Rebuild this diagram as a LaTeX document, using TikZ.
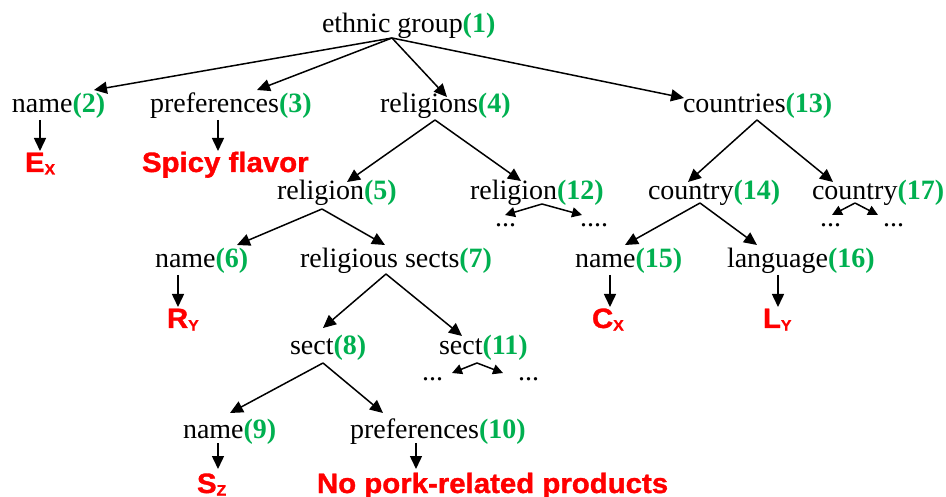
\documentclass[tikz,border=0pt]{standalone}
\usepackage{fontspec}
\setmainfont{Liberation Serif}
\newfontfamily\redfont[FakeStretch=1.05,FakeBold=1.2]{Liberation Sans}
\usetikzlibrary{arrows.meta}
\definecolor{numgreen}{HTML}{00B050}
\definecolor{valred}{HTML}{FF0000}
\newcommand{\tlab}[2]{#1\textbf{\color{numgreen}(#2)}}
\newcommand{\rsub}[2]{#1\raisebox{-2.5pt}{\fontsize{15}{15}\selectfont #2}}
\begin{document}
\begin{tikzpicture}[x=1pt,y=-1pt,
  lbl/.style={anchor=base west, inner sep=0pt, outer sep=0pt, font=\fontsize{28}{30}\selectfont},
  val/.style={anchor=base west, inner sep=0pt, outer sep=0pt, text=valred, font=\redfont\bfseries\fontsize{28}{30}\selectfont},
  edge/.style={line width=1.5pt, -{Triangle[length=13pt,width=12pt]}},
  minor/.style={line width=1.5pt, -{Triangle[length=10pt,width=10pt]}}]
\useasboundingbox (0,0) rectangle (946,497);
% nodes
\node[lbl] (n1) at (322,33) {\tlab{ethnic group}{1}};
\node[lbl] (n2) at (12,113) {\tlab{name}{2}};
\node[lbl] (n3) at (150,113) {\tlab{preferences}{3}};
\node[lbl] (n4) at (380,113) {\tlab{religions}{4}};
\node[lbl] (n13) at (683,113) {\tlab{countries}{13}};
\node[val] (ex) at (25,172) {\rsub{E}{X}};
\node[val] (spicy) at (142,172) {Spicy flavor};
\node[lbl] (n5) at (277,200) {\tlab{religion}{5}};
\node[lbl] (n12) at (470,200) {\tlab{religion}{12}};
\node[lbl] (n14) at (648,200) {\tlab{country}{14}};
\node[lbl] (n17) at (812,200) {\tlab{country}{17}};
\node[lbl] (d12a) at (495,227) {...};
\node[lbl] (d12b) at (580,227) {....};
\node[lbl] (d17a) at (820,227) {...};
\node[lbl] (d17b) at (883,227) {...};
\node[lbl] (n6) at (155,268) {\tlab{name}{6}};
\node[lbl] (n7) at (300,268) {\tlab{religious sects}{7}};
\node[lbl] (n15) at (575,268) {\tlab{name}{15}};
\node[lbl] (n16) at (727,268) {\tlab{language}{16}};
\node[val] (ry) at (167,328) {\rsub{R}{Y}};
\node[val] (cx) at (592,328) {\rsub{C}{X}};
\node[val] (ly) at (763,328) {\rsub{L}{Y}};
\node[lbl] (n8) at (290,355) {\tlab{sect}{8}};
\node[lbl] (n11) at (439,355) {\tlab{sect}{11}};
\node[lbl] (d11a) at (422,381) {...};
\node[lbl] (d11b) at (518,381) {...};
\node[lbl] (n9) at (183,438) {\tlab{name}{9}};
\node[lbl] (n10) at (350,438) {\tlab{preferences}{10}};
\node[val] (sz) at (197,493) {\rsub{S}{Z}};
\node[val] (pork) at (317,493) {No pork-related products};
% connectors
\draw[edge] ([shift={(70,5)}]n1.base west) -- ([shift={(82,-23)}]n2.base west);
\draw[edge] ([shift={(70,5)}]n1.base west) -- ([shift={(107,-23)}]n3.base west);
\draw[edge] ([shift={(70,5)}]n1.base west) -- ([shift={(67,-16)}]n4.base west);
\draw[edge] ([shift={(70,5)}]n1.base west) -- ([shift={(1,-15)}]n13.base west);
\draw[edge] ([shift={(28,7)}]n2.base west) -- ([shift={(15,-21)}]ex.base west);
\draw[edge] ([shift={(68,7)}]n3.base west) -- ([shift={(76,-21)}]spicy.base west);
\draw[edge] ([shift={(55,7)}]n4.base west) -- ([shift={(70,-18)}]n5.base west);
\draw[edge] ([shift={(55,7)}]n4.base west) -- ([shift={(51,-19)}]n12.base west);
\draw[edge] ([shift={(74,7)}]n13.base west) -- ([shift={(40,-18)}]n14.base west);
\draw[edge] ([shift={(74,7)}]n13.base west) -- ([shift={(21,-18)}]n17.base west);
\draw[edge] ([shift={(45,9)}]n5.base west) -- ([shift={(82,-23)}]n6.base west);
\draw[edge] ([shift={(45,9)}]n5.base west) -- ([shift={(85,-23)}]n7.base west);
\draw[minor] ([shift={(72,4)}]n12.base west) -- ([shift={(10,-12)}]d12a.base west);
\draw[minor] ([shift={(72,4)}]n12.base west) -- ([shift={(2,-12)}]d12b.base west);
\draw[edge] ([shift={(52,3)}]n14.base west) -- ([shift={(50,-23)}]n15.base west);
\draw[edge] ([shift={(52,3)}]n14.base west) -- ([shift={(30,-23)}]n16.base west);
\draw[minor] ([shift={(43,3)}]n17.base west) -- ([shift={(12,-12)}]d17a.base west);
\draw[minor] ([shift={(43,3)}]n17.base west) -- ([shift={(-5,-12)}]d17b.base west);
\draw[edge] ([shift={(23,7)}]n6.base west) -- ([shift={(11,-21)}]ry.base west);
\draw[edge] ([shift={(35,7)}]n15.base west) -- ([shift={(18,-21)}]cx.base west);
\draw[edge] ([shift={(51,7)}]n16.base west) -- ([shift={(15,-21)}]ly.base west);
\draw[edge] ([shift={(86,6)}]n7.base west) -- ([shift={(33,-27)}]n8.base west);
\draw[edge] ([shift={(86,6)}]n7.base west) -- ([shift={(23,-19)}]n11.base west);
\draw[edge] ([shift={(33,8)}]n8.base west) -- ([shift={(47,-25)}]n9.base west);
\draw[edge] ([shift={(33,8)}]n8.base west) -- ([shift={(33,-25)}]n10.base west);
\draw[minor] ([shift={(38,8)}]n11.base west) -- ([shift={(30,-8)}]d11a.base west);
\draw[minor] ([shift={(38,8)}]n11.base west) -- ([shift={(-15,-8)}]d11b.base west);
\draw[edge] ([shift={(35,5)}]n9.base west) -- ([shift={(21,-24)}]sz.base west);
\draw[edge] ([shift={(66,5)}]n10.base west) -- ([shift={(99,-24)}]pork.base west);
\end{tikzpicture}
\end{document}
